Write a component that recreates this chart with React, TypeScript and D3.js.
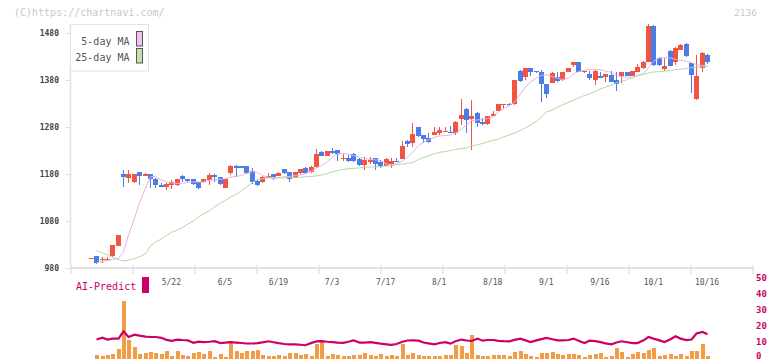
import React from "react";
import * as d3 from "d3";

// daily candles, oldest first (last one is 10/16)
const opens = [
  1000, 1006, 998, 999, 1005, 1027, 1180, 1172, 1164, 1184,
  1176, 1180, 1169, 1157, 1153, 1157, 1157, 1176, 1169, 1169,
  1162, 1162, 1167, 1178, 1173, 1151, 1182, 1197, 1197, 1197,
  1187, 1166, 1162, 1172, 1180, 1176, 1190, 1184, 1172, 1183,
  1193, 1184, 1194, 1226, 1219, 1228, 1231, 1212, 1215, 1223,
  1212, 1199, 1208, 1213, 1205, 1197, 1201, 1208, 1212, 1251,
  1247, 1279, 1263, 1256, 1263, 1267, 1270, 1270, 1268, 1297,
  1318, 1297, 1309, 1290, 1286, 1306, 1315, 1327, 1330, 1329,
  1399, 1387, 1405, 1399, 1398, 1371, 1374, 1386, 1379, 1398,
  1412, 1418, 1398, 1393, 1379, 1389, 1387, 1391, 1379, 1389,
  1396, 1389, 1398, 1405, 1419, 1495, 1427, 1403, 1442, 1419,
  1444, 1457, 1416, 1339, 1406, 1433,
];
const highs = [
  1002, 1006, 1004, 1004, 1030, 1050, 1188, 1188, 1181, 1185,
  1182, 1181, 1171, 1160, 1160, 1167, 1170, 1177, 1170, 1170,
  1163, 1170, 1182, 1179, 1174, 1170, 1199, 1199, 1198, 1198,
  1192, 1167, 1176, 1182, 1181, 1184, 1191, 1185, 1185, 1191,
  1195, 1196, 1233, 1228, 1229, 1235, 1232, 1223, 1220, 1224,
  1213, 1217, 1217, 1215, 1210, 1213, 1213, 1213, 1251, 1252,
  1289, 1281, 1264, 1268, 1279, 1281, 1281, 1282, 1292, 1339,
  1320, 1337, 1311, 1299, 1304, 1314, 1330, 1330, 1332, 1381,
  1401, 1406, 1406, 1400, 1401, 1372, 1398, 1398, 1397, 1406,
  1419, 1419, 1400, 1399, 1401, 1396, 1393, 1399, 1396, 1397,
  1397, 1400, 1414, 1420, 1499, 1496, 1429, 1427, 1444, 1450,
  1456, 1458, 1417, 1433, 1440, 1435,
];
const lows = [
  999, 988, 991, 997, 1003, 1026, 1153, 1160, 1160, 1157,
  1175, 1150, 1150, 1152, 1146, 1149, 1155, 1164, 1163, 1157,
  1149, 1160, 1157, 1164, 1157, 1150, 1178, 1173, 1192, 1180,
  1159, 1155, 1161, 1171, 1167, 1175, 1181, 1162, 1171, 1181,
  1180, 1182, 1193, 1218, 1218, 1223, 1208, 1208, 1206, 1206,
  1198, 1189, 1201, 1189, 1192, 1196, 1193, 1205, 1211, 1238,
  1237, 1259, 1245, 1245, 1262, 1263, 1270, 1267, 1263, 1284,
  1268, 1231, 1281, 1284, 1285, 1305, 1313, 1318, 1325, 1327,
  1376, 1380, 1389, 1394, 1334, 1341, 1373, 1376, 1377, 1396,
  1408, 1396, 1394, 1379, 1369, 1384, 1376, 1375, 1357, 1374,
  1388, 1388, 1397, 1403, 1418, 1410, 1410, 1400, 1409, 1412,
  1443, 1430, 1353, 1338, 1398, 1414,
];
const closes = [
  1001, 991, 1000, 1000, 1029, 1050, 1173, 1180, 1180, 1176,
  1180, 1169, 1157, 1153, 1159, 1162, 1169, 1169, 1165, 1159,
  1151, 1169, 1178, 1173, 1158, 1169, 1196, 1193, 1193, 1182,
  1162, 1157, 1174, 1176, 1173, 1183, 1183, 1169, 1184, 1190,
  1182, 1194, 1223, 1219, 1228, 1224, 1223, 1214, 1208, 1208,
  1199, 1210, 1209, 1201, 1198, 1212, 1208, 1206, 1240, 1244,
  1265, 1261, 1255, 1249, 1270, 1274, 1272, 1268, 1291, 1306,
  1295, 1303, 1289, 1286, 1303, 1307, 1329, 1329, 1327, 1380,
  1378, 1405, 1398, 1396, 1371, 1350, 1394, 1378, 1396, 1405,
  1418, 1398, 1399, 1385, 1400, 1385, 1392, 1376, 1372, 1396,
  1389, 1399, 1408, 1419, 1495, 1412, 1412, 1410, 1410, 1449,
  1455, 1432, 1391, 1389, 1438, 1419,
];

// moving averages as drawn (first day has none)
const ma5 = [
  null,
  991, 994, 996, 998, 1000, 1015, 1050, 1086, 1119, 1150,
  1174, 1175, 1167, 1163, 1161, 1160, 1160, 1162, 1163, 1163,
  1163, 1167, 1168, 1169, 1170, 1173, 1175, 1177, 1181, 1185,
  1183, 1177, 1173, 1169, 1172, 1174, 1175, 1177, 1178, 1181,
  1186, 1193, 1198, 1206, 1216, 1223, 1224, 1222, 1219, 1216,
  1213, 1211, 1210, 1209, 1201, 1199, 1202, 1208, 1216, 1226,
  1240, 1248, 1253, 1258, 1261, 1262, 1263, 1267, 1276, 1284,
  1293, 1295, 1296, 1298, 1302, 1312, 1319, 1326, 1333, 1350,
  1365, 1376, 1384, 1390, 1391, 1387, 1384, 1381, 1384, 1393,
  1398, 1401, 1402, 1403, 1402, 1399, 1396, 1390, 1387, 1386,
  1386, 1390, 1394, 1406, 1420, 1427, 1427, 1427, 1424, 1422,
  1420, 1417, 1413, 1411, 1409,
];
const ma25 = [
  null,
  1017, 1012, 1008, 1003, 998, 995, 997, 1000, 1004, 1010,
  1027, 1035, 1042, 1049, 1056, 1061, 1066, 1073, 1080, 1089,
  1095, 1102, 1110, 1118, 1124, 1131, 1137, 1145, 1152, 1162,
  1168, 1170, 1172, 1172, 1172, 1172, 1173, 1173, 1173, 1174,
  1175, 1176, 1178, 1181, 1185, 1187, 1190, 1191, 1192, 1193,
  1194, 1195, 1195, 1196, 1197, 1198, 1200, 1201, 1203, 1204,
  1211, 1215, 1219, 1223, 1226, 1228, 1230, 1232, 1234, 1235,
  1240, 1242, 1245, 1248, 1252, 1254, 1259, 1263, 1267, 1273,
  1278, 1284, 1292, 1302, 1312, 1316, 1322, 1327, 1333, 1337,
  1342, 1347, 1350, 1356, 1361, 1365, 1369, 1374, 1377, 1381,
  1385, 1389, 1392, 1395, 1397, 1398, 1399, 1400, 1402, 1403,
  1405, 1406, 1407, 1408, 1409,
];

// lower panel
const volume = [
  null,
  2.7, 2, 2.7, 3.4, 6.5, 37, 12.2, 8, 3.4, 4.2,
  4.4, 4.2, 3.4, 5.4, 2.1, 5.4, 2.7, 2.1, 4.2, 4.9,
  3.6, 5.4, 1.3, 3.6, 1.3, 10.5, 5.4, 4.2, 5.4, 5.4,
  5.9, 2.7, 2.1, 2.1, 2.7, 2.1, 4.2, 3.8, 2.7, 3.6,
  2.1, 10, 10.8, 2.1, 3.6, 2.7, 2.1, 2.1, 2.7, 2.7,
  4.2, 2.7, 2.1, 3.4, 2.1, 2.7, 2.1, 9.5, 3, 3.8,
  2.7, 2.1, 2.1, 2.1, 2.1, 2.7, 2.7, 9, 8.4, 4.2,
  15.4, 2.7, 2.1, 2.1, 2.7, 2.7, 2.7, 2.1, 4.9, 5.4,
  3.4, 2.1, 1.3, 4.2, 4.2, 4.9, 3.4, 2.7, 3.4, 3.4,
  2.7, 1.3, 2.7, 3.4, 4.2, 1.3, 2.1, 7, 4.9, 1.3,
  3.4, 4.9, 4.2, 6, 7, 2.1, 2.7, 3.4, 2.1, 3.4,
  2.1, 5.2, 5.2, 9.7, 2.1,
];
const predict = [
  null,
  12.5, 13.7, 12.5, 13.1, 13.1, 17.7, 14.1, 15.6, 15, 14.4,
  14.1, 14.1, 13.6, 12.3, 11.7, 12.5, 12.2, 12, 10.4, 11.2,
  10.9, 11.1, 11.5, 10.3, 10.6, 10.9, 10.6, 10.3, 10, 10,
  10.2, 10.7, 11.4, 10.8, 10.2, 9.7, 9.5, 9.5, 9.2, 8.9,
  10.4, 11.3, 11.5, 11.1, 10.9, 10.5, 10.4, 11.1, 12, 10.6,
  10.5, 10.9, 10.4, 9.9, 9.5, 9.1, 9.7, 11.1, 11.9, 12,
  11.8, 10.6, 10.1, 9.5, 10.3, 10.9, 9.9, 11.4, 12.5, 11.9,
  11.6, 13.1, 11.8, 12.2, 12.2, 11.7, 11.5, 11.4, 12.3, 13.1,
  12, 10.9, 12, 12.8, 13.5, 12.7, 12, 12, 12.2, 13.1,
  11.7, 10.3, 11.8, 11.5, 10.9, 10.1, 9.5, 10.6, 11.4, 10.8,
  10.3, 10.3, 12, 14.1, 13.1, 12, 10.9, 12.7, 14.6, 13.1,
  12.2, 12.5, 16.3, 17.3, 15.8,
];

const dateIdx = [15, 25, 35, 45, 55, 65, 75, 85, 95, 105, 115];
const dateLabels = ["5/22", "6/5", "6/19", "7/3", "7/17", "8/1", "8/18", "9/1", "9/16", "10/1", "10/16"];
const priceTicks = [980, 1080, 1180, 1280, 1380, 1480];
const aiTicks = [0, 10, 20, 30, 40, 50];

const W = 772;
const H = 361;
const FONT = "'DejaVu Sans Mono', monospace";
const UP = "#f25442";
const DOWN = "#4a7de8";
const AXIS = "#e2e2e2";
const PINK = "#e8b2e8";
const GREEN = "#b2d9a2";
const MAGENTA = "#cc0066";

export default function App() {
  const x = d3.scaleLinear().domain([0, closes.length - 1]).range([91, 707]);
  const y = d3.scaleLinear().domain([980, 1480]).range([268, 33]);
  const grid = d3.scaleLinear().domain([0, 11]).range([71, 753]);
  const yv = d3.scaleLinear().domain([0, 50]).range([359.3, 280.3]);

  const maLine = d3
    .line<number | null>()
    .defined(d => d != null)
    .x((d, i) => Math.round(x(i)) + 0.5)
    .y(d => y(d as number));

  const aiLine = d3
    .line<number | null>()
    .defined(d => d != null)
    .x((d, i) => Math.round(x(i)) + 0.5)
    .y(d => yv(d as number));

  return (
    <svg
      width={W}
      height={H}
      style={{ position: "absolute", left: 0, top: 0, background: "#fff" }}
      fontFamily={FONT}
    >
      <text x={14} y={12.5} fontSize={10} fill="#c8c8c8" dominantBaseline="central">
        (C)https://chartnavi.com/
      </text>
      <text x={757} y={12} fontSize={9.5} fill="#c8c8c8" textAnchor="end" dominantBaseline="central">
        2136
      </text>

      {/* axes */}
      <line x1={70.5} x2={70.5} y1={24} y2={268} stroke={AXIS} strokeWidth={1.5} />
      <line x1={71} x2={753} y1={268} y2={268} stroke={AXIS} strokeWidth={2} />
      {grid.ticks(11).map(t => (
        <line key={"g" + t} x1={grid(t)} x2={grid(t)} y1={265} y2={274} stroke={AXIS} strokeWidth={1.5} />
      ))}
      {priceTicks.map(t => (
        <g key={"p" + t}>
          <line x1={65} x2={71} y1={Math.round(y(t)) + 0.5} y2={Math.round(y(t)) + 0.5} stroke={AXIS} />
          <text
            x={59}
            y={y(t)}
            fontSize={8}
            fontWeight="bold"
            fill="#444"
            textAnchor="end"
            dominantBaseline="central"
          >
            {t}
          </text>
        </g>
      ))}
      {dateIdx.map((d, i) => (
        <text
          key={"d" + d}
          x={x(d)}
          y={282.5}
          fontSize={8}
          fill="#555"
          textAnchor="middle"
          dominantBaseline="central"
        >
          {dateLabels[i]}
        </text>
      ))}

      {/* candles */}
      {closes.map((c, i) => {
        const o = opens[i];
        const col = c >= o ? UP : DOWN;
        const cx = Math.round(x(i));
        const top = y(Math.max(o, c));
        const bot = y(Math.min(o, c));
        return (
          <g key={"c" + i} shapeRendering="crispEdges">
            <line x1={cx + 0.5} x2={cx + 0.5} y1={y(highs[i])} y2={y(lows[i])} stroke={col} />
            <rect x={cx - 2} y={top} width={5} height={Math.max(1.2, bot - top)} fill={col} />
          </g>
        );
      })}

      <path d={maLine(ma5) || ""} fill="none" stroke={PINK} strokeWidth={1} />
      <path d={maLine(ma25) || ""} fill="none" stroke={GREEN} strokeWidth={1} />

      {/* legend */}
      <rect x={70.5} y={24.5} width={78} height={46.5} fill="#fff" stroke={AXIS} />
      <text x={129.5} y={41} fontSize={10} fill="#555" textAnchor="end" dominantBaseline="central">
        5-day MA
      </text>
      <text x={129.5} y={57} fontSize={10} fill="#555" textAnchor="end" dominantBaseline="central">
        25-day MA
      </text>
      <rect x={136.5} y={31.5} width={6} height={14.5} fill="#f0c0f0" stroke="#555" />
      <rect x={136.5} y={48.5} width={6} height={14.5} fill="#c2e0b2" stroke="#555" />

      {/* AI-Predict panel */}
      <text x={76} y={286} fontSize={10} fill={MAGENTA} dominantBaseline="central">
        AI-Predict
      </text>
      <rect x={142} y={277} width={7} height={16} fill={MAGENTA} />
      {volume.map((v, i) =>
        v == null ? null : (
          <rect
            key={"v" + i}
            x={Math.round(x(i)) - 1.5}
            y={yv(v)}
            width={4}
            height={yv(0) - yv(v)}
            fill="#f39c46"
            shapeRendering="crispEdges"
          />
        )
      )}
      <path d={aiLine(predict) || ""} fill="none" stroke={MAGENTA} strokeWidth={2.2} />
      {aiTicks.map(t => (
        <text
          key={"a" + t}
          x={756}
          y={Math.min(yv(t) - 2, 355.5)}
          fontSize={9}
          fontWeight="bold"
          fill={MAGENTA}
          dominantBaseline="central"
        >
          {t}
        </text>
      ))}
    </svg>
  );
}
